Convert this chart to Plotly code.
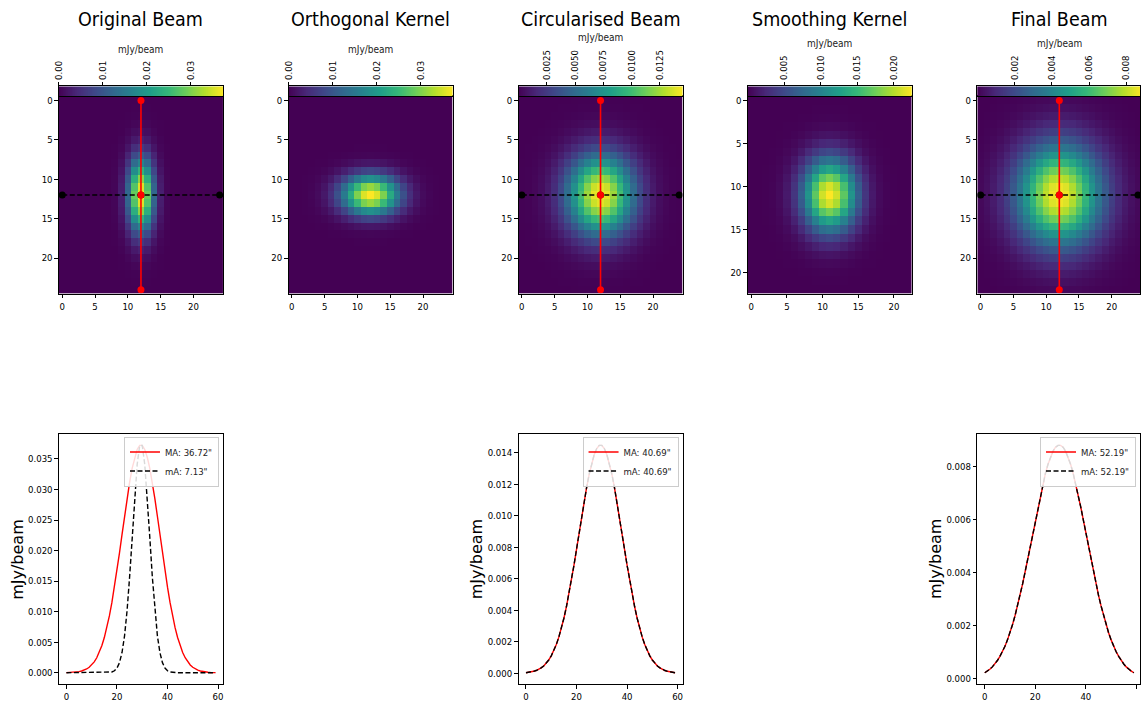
import numpy as np
import plotly.graph_objects as go

W, H = 1141, 702
FONT = "DejaVu Sans Condensed, DejaVu Sans, sans-serif"
FONT_Y = "DejaVu Sans, sans-serif"

# ---------------- data ----------------
titles = ["Original Beam", "Orthogonal Kernel", "Circularised Beam", "Smoothing Kernel", "Final Beam"]
unit = "mJy/beam"

# peak brightness of each image (mJy/beam)
peak_original = 0.0373
peak_orthogonal = 0.0373
peak_circular = 0.0145
peak_smoothing = 0.0225
peak_final = 0.0088

# normalised cuts through the image centre (rows = vertical cut, cols = horizontal cut)
original_rows = [0.0009, 0.0027, 0.0076, 0.0192, 0.0439, 0.0914, 0.172, 0.295, 0.458, 0.644, 0.823, 0.952, 1.0,
                 0.952, 0.823, 0.644, 0.458, 0.295, 0.172, 0.0914, 0.0439, 0.0192, 0.0076, 0.0027, 0.0009]
original_cols = [0.0, 0.0, 0.0, 0.0, 0.0, 0.0, 0.0001, 0.0010, 0.0124, 0.085, 0.334, 0.760, 1.0,
                 0.760, 0.334, 0.085, 0.0124, 0.0010, 0.0001, 0.0, 0.0, 0.0, 0.0, 0.0, 0.0]
orthogonal_rows = [0.0, 0.0, 0.0, 0.0, 0.0, 0.0002, 0.0020, 0.0132, 0.0628, 0.211, 0.500, 0.841, 1.0,
                   0.841, 0.500, 0.211, 0.0628, 0.0132, 0.0020, 0.0002, 0.0, 0.0, 0.0, 0.0, 0.0]
orthogonal_cols = [0.0003, 0.0012, 0.0039, 0.0111, 0.0286, 0.0657, 0.135, 0.249, 0.411, 0.607, 0.801, 0.946, 1.0,
                   0.946, 0.801, 0.607, 0.411, 0.249, 0.135, 0.0657, 0.0286, 0.0111, 0.0039, 0.0012, 0.0003]
circular_rows = [0.0028, 0.0072, 0.0169, 0.0367, 0.0734, 0.135, 0.230, 0.360, 0.520, 0.693, 0.849, 0.960, 1.0,
                 0.960, 0.849, 0.693, 0.520, 0.360, 0.230, 0.135, 0.0734, 0.0367, 0.0169, 0.0072, 0.0028]
circular_cols = [0.0028, 0.0072, 0.0169, 0.0367, 0.0734, 0.135, 0.230, 0.360, 0.520, 0.693, 0.849, 0.960, 1.0,
                 0.960, 0.849, 0.693, 0.520, 0.360, 0.230, 0.135, 0.0734, 0.0367, 0.0169, 0.0072, 0.0028]
smoothing_rows = [0.00075, 0.0026, 0.0081, 0.0223, 0.0543, 0.118, 0.226, 0.386, 0.586, 0.788, 0.942, 1.0,
                  0.942, 0.788, 0.586, 0.386, 0.226, 0.118, 0.0543, 0.0223, 0.0081, 0.0026, 0.00075]
smoothing_cols = [0.0001, 0.0006, 0.0025, 0.0088, 0.0267, 0.0698, 0.157, 0.306, 0.514, 0.744, 0.929, 1.0,
                  0.929, 0.744, 0.514, 0.306, 0.157, 0.0698, 0.0267, 0.0088, 0.0025, 0.0006, 0.0001]
final_rows = [0.0243, 0.0439, 0.0756, 0.123, 0.191, 0.282, 0.395, 0.524, 0.662, 0.793, 0.902, 0.975, 1.0,
              0.975, 0.902, 0.793, 0.662, 0.524, 0.395, 0.282, 0.191, 0.123, 0.0756, 0.0439, 0.0243]
final_cols = [0.0243, 0.0439, 0.0756, 0.123, 0.191, 0.282, 0.395, 0.524, 0.662, 0.793, 0.902, 0.975, 1.0,
              0.975, 0.902, 0.793, 0.662, 0.524, 0.395, 0.282, 0.191, 0.123, 0.0756, 0.0439, 0.0243]

# colour-bar ticks
cbar_ticks = [[0.00, 0.01, 0.02, 0.03],
              [0.00, 0.01, 0.02, 0.03],
              [0.0025, 0.0050, 0.0075, 0.0100, 0.0125],
              [0.005, 0.010, 0.015, 0.020],
              [0.002, 0.004, 0.006, 0.008]]
cbar_fmt = ["{:.2f}", "{:.2f}", "{:.4f}", "{:.3f}", "{:.3f}"]

# cut lines drawn on the beams (pixel coordinates)
cut_major_x = [12, 12, 12]
cut_major_y = [0, 12, 24]
cut_minor_x = [0, 12, 24]
cut_minor_y = [12, 12, 12]

# profiles along the cuts (60 samples)
profile_x = list(range(60))
original_major = [0.00002, 0.00003, 0.00004, 0.00007, 0.00012, 0.00018, 0.00028, 0.00041, 0.00061, 0.00089,
                  0.00127, 0.00178, 0.00245, 0.00332, 0.00441, 0.00576, 0.00738, 0.00930, 0.01151, 0.01400,
                  0.01672, 0.01962, 0.02262, 0.02562, 0.02850, 0.03116, 0.03345, 0.03528, 0.03656, 0.03722,
                  0.03722, 0.03656, 0.03528, 0.03345, 0.03116, 0.02850, 0.02562, 0.02262, 0.01962, 0.01672,
                  0.01400, 0.01151, 0.00930, 0.00738, 0.00576, 0.00441, 0.00332, 0.00245, 0.00178, 0.00127,
                  0.00089, 0.00061, 0.00041, 0.00028, 0.00018, 0.00012, 0.00007, 0.00004, 0.00003, 0.00002]
original_minor = [0.0, 0.0, 0.0, 0.0, 0.0, 0.0, 0.0, 0.0, 0.0, 0.0, 0.0, 0.0, 0.0, 0.0, 0.0, 0.0,
                  0.00001, 0.00004, 0.00012, 0.00032, 0.00076, 0.00165, 0.00331, 0.00604, 0.01017, 0.01566,
                  0.02214, 0.02870, 0.03411, 0.03720, 0.03720, 0.03411, 0.02870, 0.02214, 0.01566, 0.01017,
                  0.00604, 0.00331, 0.00165, 0.00076, 0.00032, 0.00012, 0.00004, 0.00001,
                  0.0, 0.0, 0.0, 0.0, 0.0, 0.0, 0.0, 0.0, 0.0, 0.0, 0.0, 0.0, 0.0, 0.0, 0.0, 0.0]
circular_major = [0.00004, 0.00006, 0.00009, 0.00013, 0.00018, 0.00025, 0.00035, 0.00047, 0.00064, 0.00085,
                  0.00111, 0.00143, 0.00183, 0.00230, 0.00286, 0.00350, 0.00423, 0.00504, 0.00593, 0.00688,
                  0.00788, 0.00890, 0.00991, 0.01090, 0.01182, 0.01264, 0.01335, 0.01390, 0.01428, 0.01448,
                  0.01448, 0.01428, 0.01390, 0.01335, 0.01264, 0.01182, 0.01090, 0.00991, 0.00890, 0.00788,
                  0.00688, 0.00593, 0.00504, 0.00423, 0.00350, 0.00286, 0.00230, 0.00183, 0.00143, 0.00111,
                  0.00085, 0.00064, 0.00047, 0.00035, 0.00025, 0.00018, 0.00013, 0.00009, 0.00006, 0.00004]
circular_minor = list(circular_major)
final_major = [0.00021, 0.00027, 0.00034, 0.00043, 0.00054, 0.00067, 0.00083, 0.00100, 0.00121, 0.00145,
               0.00172, 0.00203, 0.00237, 0.00274, 0.00314, 0.00357, 0.00403, 0.00450, 0.00499, 0.00549,
               0.00598, 0.00646, 0.00692, 0.00734, 0.00773, 0.00807, 0.00835, 0.00857, 0.00872, 0.00879,
               0.00879, 0.00872, 0.00857, 0.00835, 0.00807, 0.00773, 0.00734, 0.00692, 0.00646, 0.00598,
               0.00549, 0.00499, 0.00450, 0.00403, 0.00357, 0.00314, 0.00274, 0.00237, 0.00203, 0.00172,
               0.00145, 0.00121, 0.00100, 0.00083, 0.00067, 0.00054, 0.00043, 0.00034, 0.00027, 0.00021]
final_minor = list(final_major)

legend_major = ['MA: 36.72"', 'MA: 40.69"', 'MA: 52.19"']
legend_minor = ['mA: 7.13"', 'mA: 40.69"', 'mA: 52.19"']
profile_dtick = [0.005, 0.002, 0.002]

# ---------------- figure ----------------
images = [
    (peak_original, original_rows, original_cols),
    (peak_orthogonal, orthogonal_rows, orthogonal_cols),
    (peak_circular, circular_rows, circular_cols),
    (peak_smoothing, smoothing_rows, smoothing_cols),
    (peak_final, final_rows, final_cols),
]
panel_x = [(53.3, 218.3), (284.3, 449.3), (515.7, 680.7), (746.3, 911.3), (977.3, 1142.3)]
cbar_title_y = [48, 48, 36, 42, 42]
IMG_TOP, IMG_BOT = 95.0, 293.3
CB_TOP, CB_BOT = 84.8, 95.0
PR_TOP, PR_BOT = 434.5, 686.0


def names(k):
    return ("xaxis" if k == 1 else f"xaxis{k}", "yaxis" if k == 1 else f"yaxis{k}",
            "x" if k == 1 else f"x{k}", "y" if k == 1 else f"y{k}")


def ydom(top, bot):
    return [1 - bot / H, 1 - top / H]


AX = dict(showline=True, mirror=True, linecolor="black", linewidth=1, showgrid=False, zeroline=False,
          ticks="outside", ticklen=3.5, tickwidth=1, tickcolor="black",
          tickfont=dict(size=9.5, color="black", family=FONT))

fig = go.Figure()
layout = {}
annotations = []

for i, (peak, rows, cols) in enumerate(images):
    z = peak * np.outer(np.array(rows), np.array(cols))
    n = len(rows)
    left, right = panel_x[i]
    right_c = min(right, W)
    frac = (right_c - left) / (right - left)
    zmin, zmax = float(z.min()), float(z.max())

    k = i + 1
    xa, ya, xr, yr = names(k)
    fig.add_trace(go.Heatmap(z=z, x=np.arange(n), y=np.arange(n), colorscale="Viridis",
                             zmin=zmin, zmax=zmax, showscale=False, xaxis=xr, yaxis=yr, hoverinfo="skip"))
    layout[xa] = dict(AX, domain=[left / W, right_c / W], range=[-0.5, -0.5 + n * frac], anchor=yr,
                      tickvals=[0, 5, 10, 15, 20])
    layout[ya] = dict(AX, domain=ydom(IMG_TOP, IMG_BOT), range=[n - 0.5, -0.5], anchor=xr,
                      tickvals=[0, 5, 10, 15, 20])

    if i in (0, 2, 4):
        fig.add_trace(go.Scatter(x=cut_minor_x, y=cut_minor_y, mode="lines+markers", xaxis=xr, yaxis=yr,
                                 line=dict(color="black", width=1.6, dash="5px,2.5px"),
                                 marker=dict(color="black", size=7), showlegend=False, hoverinfo="skip"))
        fig.add_trace(go.Scatter(x=cut_major_x, y=cut_major_y, mode="lines+markers", xaxis=xr, yaxis=yr,
                                 line=dict(color="red", width=1.6),
                                 marker=dict(color="red", size=7), showlegend=False, hoverinfo="skip"))

    # colour bar as its own axis
    k = i + 6
    xa, ya, xr, yr = names(k)
    cvals = np.linspace(zmin, zmax, 256)
    fig.add_trace(go.Heatmap(z=[cvals], x=cvals, y=[0.5], colorscale="Viridis", zmin=zmin, zmax=zmax,
                             showscale=False, xaxis=xr, yaxis=yr, hoverinfo="skip"))
    layout[xa] = dict(AX, domain=[left / W, right_c / W], range=[zmin, zmin + (zmax - zmin) * frac],
                      anchor=yr, side="top", tickvals=cbar_ticks[i],
                      ticktext=[cbar_fmt[i].format(v) for v in cbar_ticks[i]], tickangle=-90)
    layout[ya] = dict(AX, domain=ydom(CB_TOP, CB_BOT), range=[0, 1], anchor=xr, showticklabels=False,
                      ticks="")
    annotations.append(dict(text=unit, x=(left + right) / 2 / W, y=1 - cbar_title_y[i] / H, xref="paper",
                            yref="paper", xanchor="center", yanchor="middle", showarrow=False,
                            font=dict(size=10, family=FONT, color="#222")))

    annotations.append(dict(text=titles[i], x=(left + right) / 2 / W, y=1 - 17.5 / H, xref="paper",
                            yref="paper", xanchor="center", yanchor="middle", showarrow=False,
                            font=dict(size=19.5, family=FONT, color="black")))

profiles = [(original_major, original_minor), (circular_major, circular_minor), (final_major, final_minor)]
for j, (pi, (maj, mino)) in enumerate(zip([0, 2, 4], profiles)):
    k = 11 + j
    xa, ya, xr, yr = names(k)
    left, right = panel_x[pi]
    right_c = min(right, W)
    frac = (right_c - left) / (right - left)
    lg = "legend" if j == 0 else f"legend{j + 1}"
    fig.add_trace(go.Scatter(x=profile_x, y=maj, mode="lines", line=dict(color="red", width=1.4),
                             name=legend_major[j], xaxis=xr, yaxis=yr, legend=lg))
    fig.add_trace(go.Scatter(x=profile_x, y=mino, mode="lines",
                             line=dict(color="black", width=1.4, dash="5px,2.5px"),
                             name=legend_minor[j], xaxis=xr, yaxis=yr, legend=lg))
    ymin = min(min(maj), min(mino))
    ymax = max(max(maj), max(mino))
    pad = 0.05 * (ymax - ymin)
    xmin, xmax = -0.05 * 59, 59 + 0.05 * 59
    layout[xa] = dict(AX, domain=[left / W, right_c / W], range=[xmin, xmin + (xmax - xmin) * frac],
                      anchor=yr, tickvals=[0, 20, 40, 60])
    layout[ya] = dict(AX, domain=ydom(PR_TOP, PR_BOT), range=[ymin - pad, ymax + pad], anchor=xr,
                      dtick=profile_dtick[j], tick0=0, tickformat=".3f")
    layout[lg] = dict(x=(right_c - 4) / W, y=1 - (PR_TOP + 2.5) / H, xanchor="right", yanchor="top",
                      bgcolor="rgba(255,255,255,0.85)", bordercolor="#cccccc", borderwidth=1,
                      font=dict(size=9.5, family=FONT, color="#222"), itemwidth=30, tracegroupgap=0)
    annotations.append(dict(text=unit, x=(left - 42.5) / W, y=1 - (PR_TOP + PR_BOT) / 2 / H,
                            xref="paper", yref="paper", xanchor="center", yanchor="middle", textangle=-90,
                            showarrow=False, font=dict(size=16, family=FONT_Y, color="black")))

fig.update_layout(**layout)
fig.update_layout(width=W, height=H, margin=dict(l=0, r=0, t=0, b=0), paper_bgcolor="white",
                  plot_bgcolor="white", annotations=annotations, font=dict(family=FONT, color="black"),
                  showlegend=True)

fig.write_html("out.html")
